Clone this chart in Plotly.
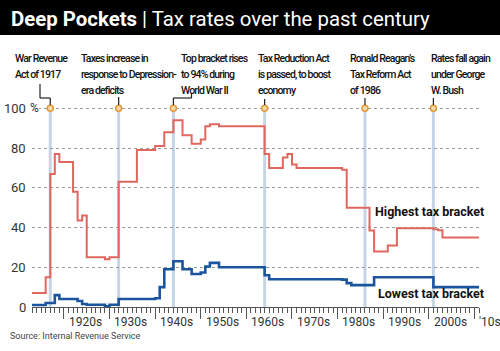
import plotly.graph_objects as go

# ---- data ----
top_years = [1913, 1916, 1917, 1918, 1919, 1922, 1923, 1924, 1925, 1929, 1930, 1932, 1936, 1940,
             1942, 1944, 1946, 1948, 1950, 1951, 1952, 1954, 1964, 1965, 1968, 1969, 1970, 1971,
             1981, 1982, 1987, 1988, 1991, 1993, 2001, 2002, 2003, 2011]
top_rate = [7, 15, 67, 77, 73, 58, 43.5, 46, 25, 24, 25, 63, 79, 81.1,
            88, 94, 86.45, 82.13, 84.36, 91, 92, 91, 77, 70, 75.25, 77, 71.75, 70,
            69.13, 50, 38.5, 28, 31, 39.6, 39.1, 38.6, 35, 35]

low_years = [1913, 1916, 1918, 1919, 1923, 1924, 1925, 1929, 1930, 1932, 1940, 1941, 1942, 1944,
             1946, 1948, 1950, 1951, 1952, 1954, 1964, 1965, 1981, 1982, 1983, 1988, 2001, 2011]
low_rate = [1, 2, 6, 4, 3, 1.5, 1.125, 0.375, 1.125, 4, 4.4, 10, 19, 23,
            19, 16.6, 17.4, 20.4, 22.2, 20, 16, 14, 13.8, 12, 11, 15, 10, 10]

event_years = [1917, 1932, 1944, 1964, 1986, 2001]
event_lines = [["War Revenue", "Act of 1917"],
               ["Taxes increase in", "response to Depression-", "era deficits"],
               ["Top bracket rises", "to 94% during", "World War II"],
               ["Tax Reduction Act", "is passed, to boost", "economy"],
               ["Ronald Reagan’s", "Tax Reform Act", "of 1986"],
               ["Rates fall again", "under George", "W. Bush"]]
event_text_x = [14, 80, 180, 257, 349, 430]  # left edge of text block (px)

decades = [1920, 1930, 1940, 1950, 1960, 1970, 1980, 1990, 2000, 2010]
decade_labels = ["1920s", "1930s", "1940s", "1950s", "1960s", "1970s", "1980s", "1990s", "2000s", "'10s"]
y_ticks = [0, 20, 40, 60, 80, 100]
y_labels = ["0", "20", "40", "60", "80", "100"]

# ---- geometry ----
W, H = 500, 351
L, R, T, B = 32, 21, 100, 44
PW, PH = W - L - R, H - T - B
X0, X1 = 1913, 2011
YMAX = 104.2

def px(x):
    return (x - L) / PW

def py(y):
    return (H - B - y) / PH

def yr_px(yr):
    return L + (yr - X0) / (X1 - X0) * PW

SANS = "Roboto, Open Sans, sans-serif"

fig = go.Figure()

shapes = []
for yr in event_years:
    shapes.append(dict(type="line", xref="x", yref="y", x0=yr, x1=yr, y0=0, y1=100,
                       line=dict(color="#c5d5e6", width=3), layer="below"))

fig.add_trace(go.Scatter(x=top_years, y=top_rate, mode="lines", line=dict(shape="hv", color="#e0675d", width=2),
                         hoverinfo="skip", showlegend=False))
fig.add_trace(go.Scatter(x=low_years, y=low_rate, mode="lines", line=dict(shape="hv", color="#1b559e", width=2.6),
                         hoverinfo="skip", showlegend=False))
fig.add_trace(go.Scatter(x=event_years, y=[100] * len(event_years), mode="markers", cliponaxis=False,
                         marker=dict(size=6, color="#f6d9a6", line=dict(color="#e39a3c", width=1.5)),
                         hoverinfo="skip", showlegend=False))

shapes.append(dict(type="rect", xref="paper", yref="paper", x0=px(0), x1=px(W), y0=py(35), y1=py(0),
                   fillcolor="#000000", line=dict(width=0), layer="above"))
# white patch so the 100% gridline starts after the label
shapes.append(dict(type="rect", xref="paper", yref="paper", x0=px(29), x1=px(39), y0=py(113), y1=py(104),
                   fillcolor="#ffffff", line=dict(width=0), layer="above"))

conn_col = "#222222"
def seg(x0, y0, x1, y1):
    shapes.append(dict(type="line", xref="paper", yref="paper", x0=px(x0), x1=px(x1), y0=py(y0), y1=py(y1),
                       line=dict(color=conn_col, width=1.2)))

ex = [yr_px(y) for y in event_years]
seg(40, 84, 40, 98); seg(40, 98, ex[0], 98); seg(ex[0], 98, ex[0], 105)
seg(ex[1], 97, ex[1], 105)
seg(191.5, 93, 191.5, 98); seg(191.5, 98, ex[2], 98); seg(ex[2], 98, ex[2], 105)
seg(ex[3], 99, ex[3], 105)
seg(ex[4], 98, ex[4], 105)
seg(ex[5], 98, ex[5], 105)

annotations = []
annotations.append(dict(xref="paper", yref="paper", x=px(9), y=py(19), xanchor="left", yanchor="middle",
                        text="<b>Deep Pockets</b> | Tax rates over the past century", showarrow=False,
                        font=dict(family=SANS, size=20.4, color="#ffffff")))
line_y = [58, 74, 90]
for tx, lines in zip(event_text_x, event_lines):
    for ln, ly in zip(lines, line_y):
        annotations.append(dict(xref="paper", yref="paper", x=px(tx - 1), y=py(ly), xanchor="left",
                                yanchor="middle", align="left",
                                text='<span style="letter-spacing:-0.85px">' + ln + '</span>',
                                showarrow=False, font=dict(family=SANS, size=10.5, color="#111111", weight=500)))
for v, lab in zip(y_ticks, y_labels):
    annotations.append(dict(xref="paper", yref="y", x=px(28), y=v, xanchor="right", yanchor="middle",
                            text=lab, showarrow=False, font=dict(family=SANS, size=13, color="#333333")))
annotations.append(dict(xref="paper", yref="y", x=px(28), y=100, xanchor="left", yanchor="middle",
                        text="%", showarrow=False, font=dict(family=SANS, size=12, color="#333333")))
for d, lab in zip(decades, decade_labels):
    annotations.append(dict(xref="x", yref="paper", x=d + 0.6, y=py(322), xanchor="left", yanchor="middle",
                            text=lab, showarrow=False, font=dict(family=SANS, size=12, color="#333333")))
annotations.append(dict(xref="paper", yref="y", x=px(486), y=39.6 + 8.5, xanchor="right", yanchor="middle",
                        text="<b>Highest tax bracket</b>", showarrow=False,
                        font=dict(family=SANS, size=12.5, color="#111111")))
annotations.append(dict(xref="paper", yref="y", x=px(486), y=7, xanchor="right", yanchor="middle",
                        text="<b>Lowest tax bracket</b>", showarrow=False,
                        font=dict(family=SANS, size=12.5, color="#111111")))
annotations.append(dict(xref="paper", yref="paper", x=px(8), y=py(336), xanchor="left", yanchor="middle",
                        text="Source: Internal Revenue Service", showarrow=False,
                        font=dict(family=SANS, size=9, color="#444444")))

fig.update_layout(
    width=W, height=H, margin=dict(l=L, r=R, t=T, b=B),
    paper_bgcolor="#ffffff", plot_bgcolor="#ffffff",
    shapes=shapes, annotations=annotations,
    xaxis=dict(range=[X0, X1], showgrid=False, zeroline=False, showticklabels=False,
               ticks="outside", tickvals=decades, ticklen=11, tickcolor="#555555", tickwidth=1,
               minor=dict(dtick=1, tick0=1913, ticks="outside", ticklen=5, tickcolor="#555555", tickwidth=1),
               showline=True, linecolor="#555555", linewidth=1),
    yaxis=dict(range=[0, YMAX], showgrid=True, gridcolor="#9a9a9a", griddash="dot", gridwidth=1,
               tickvals=[20, 40, 60, 80, 100], showticklabels=False, zeroline=False, ticks=""),
)

fig.write_html("out.html")
